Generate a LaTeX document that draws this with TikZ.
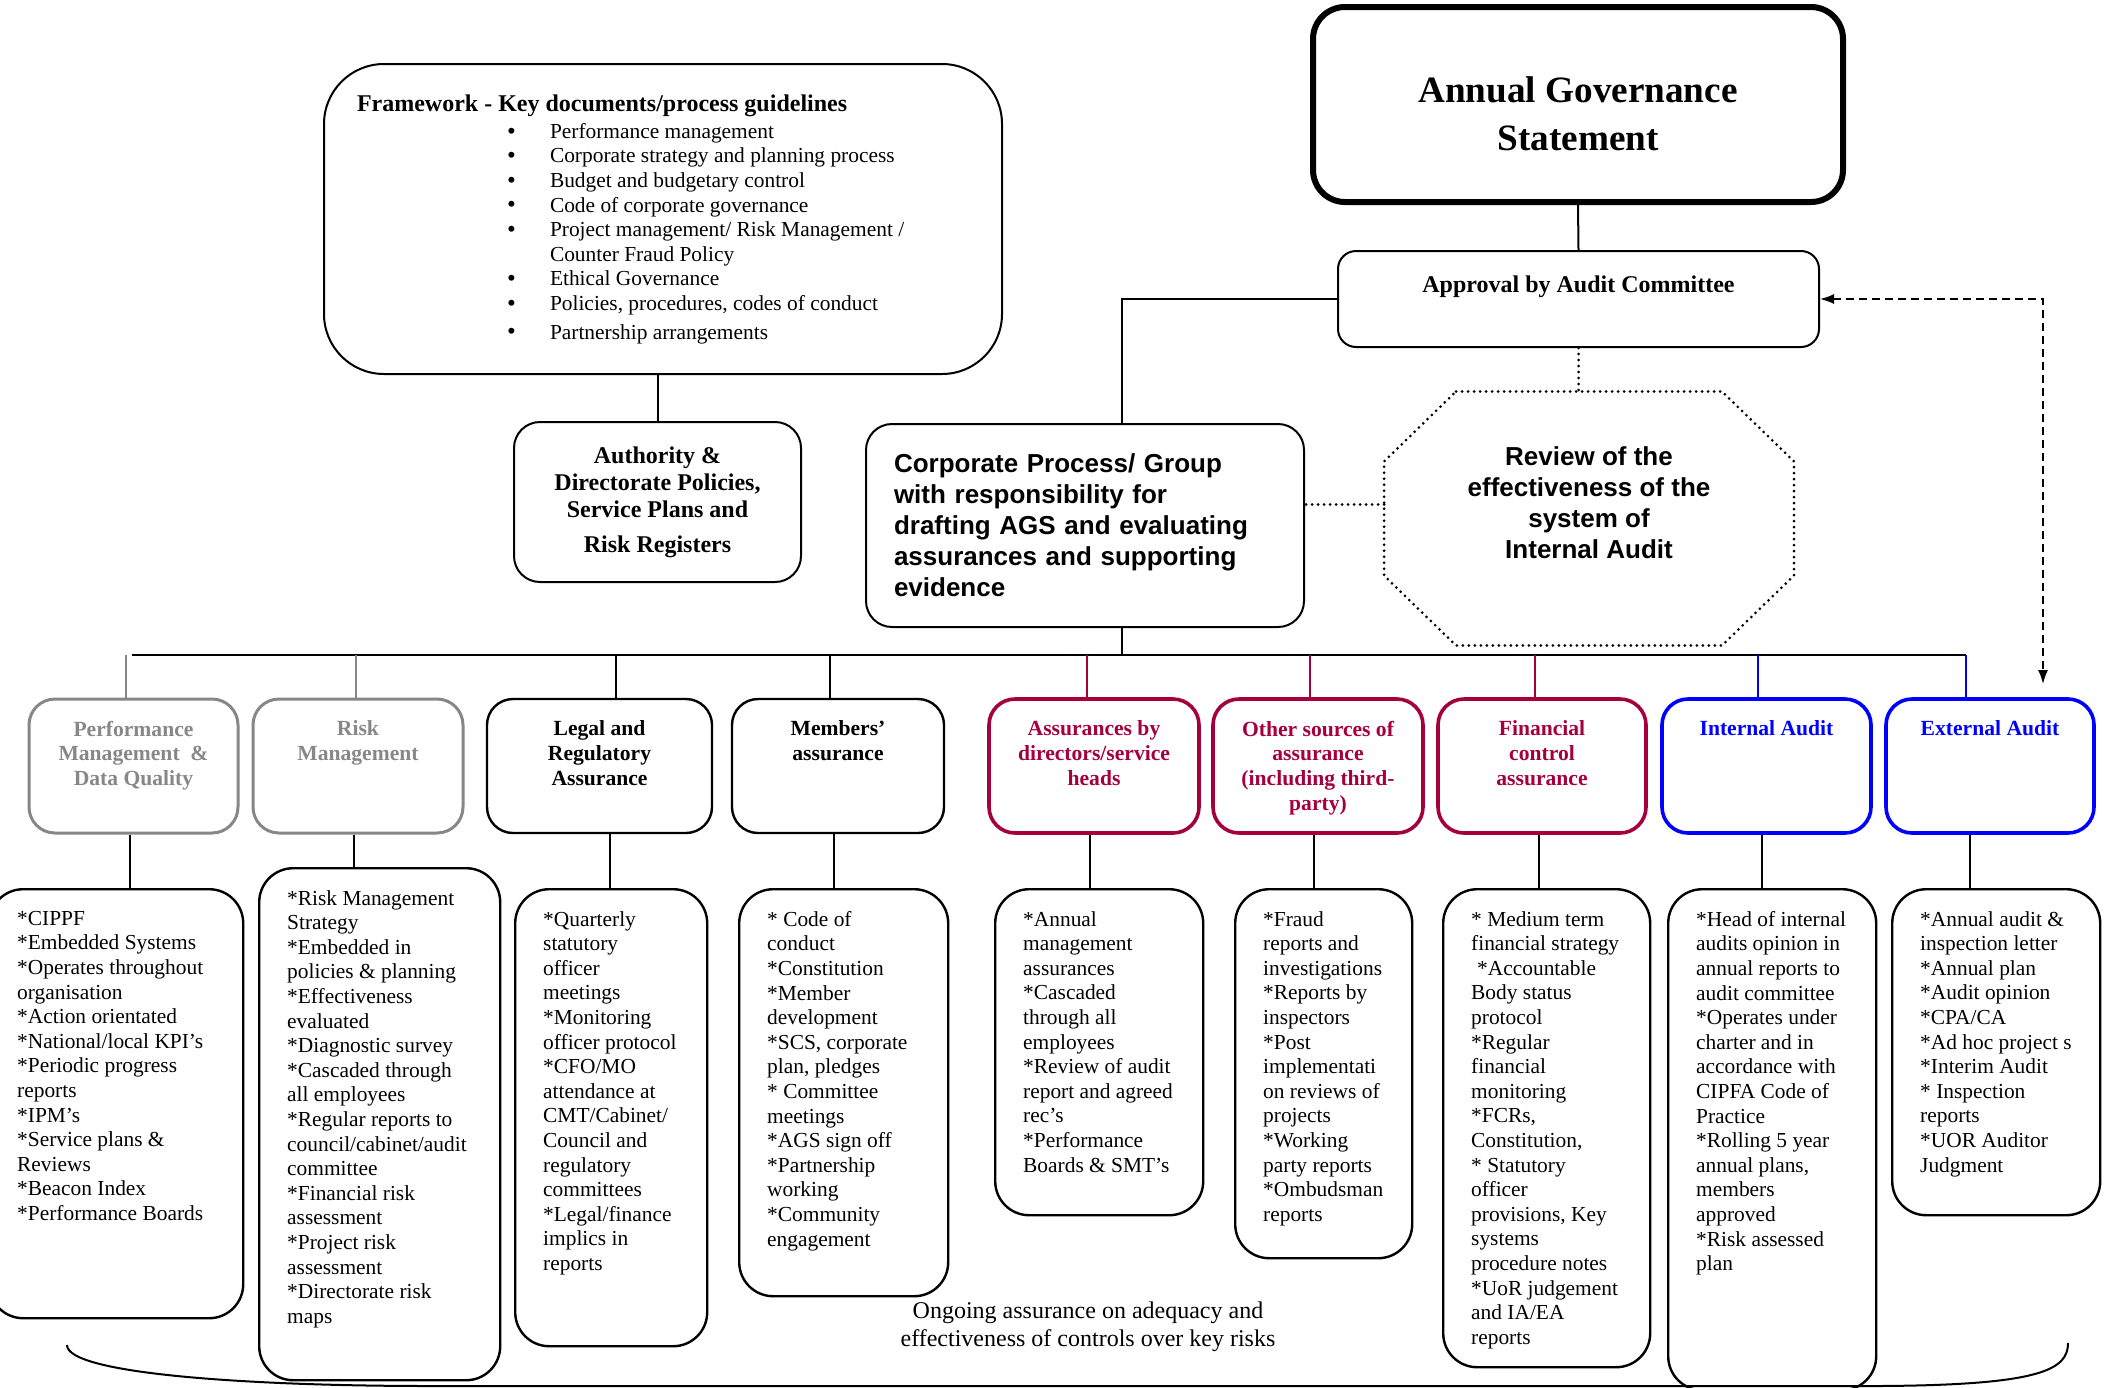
\documentclass[tikz,border=0pt]{standalone}
\usepackage{fontspec}
\setmainfont{Liberation Serif}
\newfontfamily\arialfont{Liberation Sans}
\usetikzlibrary{arrows.meta, calc}
\definecolor{agsRed}{HTML}{A5003C}
\definecolor{agsBlue}{HTML}{0000FF}
\definecolor{agsGray}{HTML}{878787}
\newcommand{\fwbullet}{\makebox[21.5pt][l]{\raisebox{-0.4pt}{\fontsize{12.5}{12}\selectfont\textbullet}}}

\begin{document}
\begin{tikzpicture}[x=0.5pt, y=-0.5pt, line width=1pt,
    hdbox/.style={rounded corners=13pt, minimum height=67pt, inner sep=0pt,
      font=\bfseries\fontsize{10.8}{12.3}\selectfont},
    detbox/.style={draw, line width=1.2pt, rounded corners=17pt, inner xsep=14pt, inner ysep=11pt,
      anchor=north west, font=\fontsize{10.7}{12.3}\selectfont},
    dotline/.style={line width=1.5pt, dash pattern=on 0pt off 3pt, line cap=round},
    dashline/.style={line width=0.8pt, dash pattern=on 4pt off 2.5pt}]
  \useasboundingbox (0,0) rectangle (2109,1387);

  % statement and approval
  \node[draw, line width=3pt, rounded corners=16pt, minimum width=265pt, minimum height=97.5pt, inner sep=0pt,
    font=\bfseries\fontsize{18.6}{24}\selectfont] (ags) at (1578,104.5)
    {\parbox[c][27.5pt][t]{250pt}{\centering Annual Governance\\Statement}};
  \node[draw, rounded corners=9pt, minimum width=240.5pt, minimum height=48pt, inner sep=0pt,
    font=\bfseries\fontsize{12}{14}\selectfont] (appr) at (1578.5,299)
    {\parbox[c][23pt][t]{220pt}{\centering Approval by Audit Committee}};
  \draw (ags.south) -- (appr.north);

  % framework
  \node[draw, rounded corners=30pt, minimum width=339pt, minimum height=155pt, inner sep=0pt] (fw) at (663,219)
    {\parbox[c][124pt][t]{306pt}{{\fontsize{12}{13}\selectfont\bfseries Framework - Key documents/process guidelines\par}
      \vspace{1pt}\fontsize{10.7}{12.3}\selectfont\raggedright
      \hspace*{75pt}\fwbullet Performance management\\
      \hspace*{75pt}\fwbullet Corporate strategy and planning process\\
      \hspace*{75pt}\fwbullet Budget and budgetary control\\
      \hspace*{75pt}\fwbullet Code of corporate governance\\
      \hspace*{75pt}\fwbullet Project management/ Risk Management /\\
      \hspace*{96.5pt}Counter Fraud Policy\\
      \hspace*{75pt}\fwbullet Ethical Governance\\
      \hspace*{75pt}\fwbullet Policies, procedures, codes of conduct\\[2pt]
      \hspace*{75pt}\fwbullet Partnership arrangements}};
  \node[draw, rounded corners=13pt, minimum width=143.5pt, minimum height=80pt, align=center,
    font=\bfseries\fontsize{12}{13.5}\selectfont] (auth) at (657.5,502)
    {Authority \&\\Directorate Policies,\\Service Plans and\\[4pt]Risk Registers};
  \draw (fw.south -| auth.north) -- (auth.north);

  % corporate group and review
  \node[draw, rounded corners=13pt, minimum height=101.5pt, inner xsep=14pt, text width=191pt, align=left,
    font=\arialfont\bfseries\fontsize{13}{15.5}\selectfont] (corp) at (1085,525.5)
    {Corporate Process/ Group\\with responsibility for\\drafting AGS and evaluating\\assurances and supporting\\evidence};
  \node[minimum width=204pt, minimum height=126pt, inner sep=0pt,
    font=\arialfont\bfseries\fontsize{13}{15.5}\selectfont] (review) at (1589,518.5)
    {\parbox[c][72pt][t]{180pt}{\centering Review of the\\effectiveness of the\\system of\\Internal Audit}};
  \draw[dotline] ($(review.north west)+(72,0)$) -- ($(review.north east)+(-72,0)$)
    -- ($(review.north east)+(0,70)$) -- ($(review.south east)+(0,-70)$)
    -- ($(review.south east)+(-72,0)$) -- ($(review.south west)+(72,0)$)
    -- ($(review.south west)+(0,-70)$) -- ($(review.north west)+(0,70)$) -- cycle;
  \draw (appr.west) -| ($(corp.north)+(37,0)$);
  \draw[dotline] (appr.south) -- (appr.south |- review.north);
  \coordinate (revleft) at ($(review.west)+(0,-14)$);
  \draw[dotline] (revleft) -- (revleft -| corp.east);

  % bus
  \coordinate (busL) at (132,655);
  \coordinate (busR) at (1966,655);
  \draw[line width=1.1pt] (busL) -- (busR);
  \coordinate (corpdrop) at ($(corp.south)+(37,0)$);
  \draw (corpdrop) -- (corpdrop |- busL);
  \coordinate (eatop) at (2043,684);
  \draw[dashline, {Latex[length=7pt,width=5pt]}-{Latex[length=7pt,width=5pt]}] (appr.east) -| (eatop);

  % assurance headings
  \foreach \nm/\x/\w/\bx/\col/\lw/\txt in {
      perf/133.5/104.5pt/126/agsGray/1.5pt/{Performance\\Management \ \&\\Data Quality},
      risk/358/105pt/356/agsGray/1.5pt/{Risk\\Management},
      legal/599.5/112.5pt/616/black/1.2pt/{Legal and\\Regulatory\\Assurance},
      members/838/106pt/830/black/1.2pt/{Members'\\assurance},
      directors/1094/105pt/1087/agsRed/1.8pt/{Assurances by\\directors/service\\heads},
      other/1318/105pt/1310/agsRed/1.8pt/{Other sources of\\assurance\\(including third-\\party)},
      fincontrol/1542/104pt/1535/agsRed/1.8pt/{Financial\\control\\assurance},
      intaudit/1766.5/104.5pt/1758/agsBlue/1.8pt/{Internal Audit},
      extaudit/1990/104pt/1966/agsBlue/1.8pt/{External Audit}} {
    \node[hdbox, draw=\col, text=\col, line width=\lw, minimum width=\w] (\nm) at (\x,766)
      {\parbox[c][45pt][t]{96pt}{\centering\txt}};
    \draw[\col, line width=0.8pt] (busL -| \bx,0) -- (\nm.north -| \bx,0);
  }

  % assurance lists
  \foreach \nm/\l/\t/\W/\H/\dx/\txt in {
      perf/-12/888/99pt/192.5pt/130/{*CIPPF\\{}*Embedded Systems\\{}*Operates throughout\\organisation\\{}*Action orientated\\{}*National/local KPI's\\{}*Periodic progress\\reports\\{}*IPM's\\{}*Service plans \&\\Reviews\\{}*Beacon Index\\{}*Performance Boards},
      risk/258/867/92.5pt/234pt/354/{*Risk Management\\Strategy\\{}*Embedded in\\policies \& planning\\{}*Effectiveness\\evaluated\\{}*Diagnostic survey\\{}*Cascaded through\\all employees\\{}*Regular reports to\\council/cabinet/audit\\committee\\{}*Financial risk\\assessment\\{}*Project risk\\assessment\\{}*Directorate risk\\maps},
      legal/514/888/68pt/206.5pt/610/{*Quarterly\\statutory\\officer\\meetings\\{}*Monitoring\\officer protocol\\{}*CFO/MO\\attendance at\\CMT/Cabinet/\\Council and\\regulatory\\committees\\{}*Legal/finance\\implics in\\reports},
      members/738/888/76.5pt/181.5pt/834/{* Code of\\conduct\\{}*Constitution\\{}*Member\\development\\{}*SCS, corporate\\plan, pledges\\{}* Committee\\meetings\\{}*AGS sign off\\{}*Partnership\\working\\{}*Community\\engagement},
      directors/994/888/76pt/141pt/1090/{*Annual\\management\\assurances\\{}*Cascaded\\through all\\employees\\{}*Review of audit\\report and agreed\\rec's\\{}*Performance\\Boards \& SMT's},
      other/1234/888/60.5pt/162.5pt/1314/{*Fraud\\reports and\\investigations\\{}*Reports by\\inspectors\\{}*Post\\implementati\\on reviews of\\projects\\{}*Working\\party reports\\{}*Ombudsman\\reports},
      fincontrol/1442/888/75.5pt/217pt/1539/{* Medium term\\financial strategy\\\hspace*{3pt}*Accountable\\Body status\\protocol\\{}*Regular\\financial\\monitoring\\{}*FCRs,\\Constitution,\\{}* Statutory\\officer\\provisions, Key\\systems\\procedure notes\\{}*UoR judgement\\and IA/EA\\reports},
      intaudit/1667/888/76pt/228.5pt/1762/{*Head of internal\\audits opinion in\\annual reports to\\audit committee\\{}*Operates under\\charter and in\\accordance with\\CIPFA Code of\\Practice\\{}*Rolling 5 year\\annual plans,\\members\\approved\\{}*Risk assessed\\plan},
      extaudit/1891/888/76pt/141pt/1970/{*Annual audit \&\\inspection letter\\{}*Annual plan\\{}*Audit opinion\\{}*CPA/CA\\{}*Ad hoc project s\\{}*Interim Audit\\{}* Inspection\\reports\\{}*UOR Auditor\\Judgment}} {
    \node[detbox] (\nm-pts) at (\l,\t) {\parbox[t][\H][t]{\W}{\raggedright\txt}};
    \draw (\nm.south -| \dx,0) -- (\nm-pts.north -| \dx,0);
  }

  % ongoing assurance
  \node[align=center, font=\fontsize{12}{14}\selectfont] (ongoing) at (1088,1327)
    {Ongoing assurance on adequacy and\\effectiveness of controls over key risks};
  \draw (67,1345) .. controls (67,1374) and (250,1386) .. (430,1386) -- (1880,1386)
    .. controls (2040,1385) and (2068,1370) .. (2068,1343);
\end{tikzpicture}
\end{document}
